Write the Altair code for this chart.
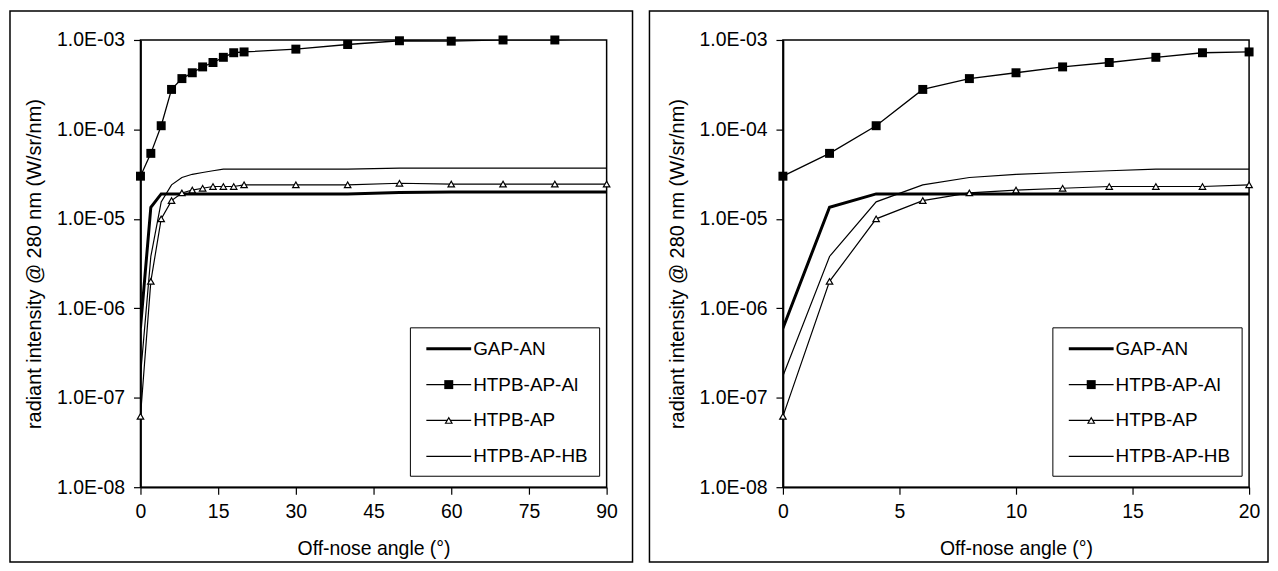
import altair as alt
import pandas as pd

# ---------------- data ----------------
series_names = ["GAP-AN", "HTPB-AP-Al", "HTPB-AP", "HTPB-AP-HB"]

angles_fine = [0, 2, 4, 6, 8, 10, 12, 14, 16, 18, 20]
gap_an_fine = [6.0e-7, 1.35e-5, 1.9e-5, 1.9e-5, 1.9e-5, 1.9e-5, 1.9e-5, 1.9e-5, 1.9e-5, 1.9e-5, 1.9e-5]
al_fine = [3.0e-5, 5.4e-5, 1.1e-4, 2.8e-4, 3.7e-4, 4.3e-4, 5.0e-4, 5.6e-4, 6.4e-4, 7.2e-4, 7.35e-4]
ap_fine = [6.2e-8, 2.0e-6, 1.0e-5, 1.6e-5, 1.95e-5, 2.1e-5, 2.2e-5, 2.3e-5, 2.3e-5, 2.3e-5, 2.4e-5]
hb_fine = [1.75e-7, 3.8e-6, 1.55e-5, 2.4e-5, 2.9e-5, 3.15e-5, 3.3e-5, 3.45e-5, 3.6e-5, 3.6e-5, 3.6e-5]

angles_wide = [30, 40, 50, 60, 70, 80, 90]
gap_an_wide = [1.9e-5, 1.9e-5, 1.97e-5, 2.0e-5, 2.0e-5, 2.0e-5, 2.0e-5]
al_wide = [7.9e-4, 8.9e-4, 9.8e-4, 9.7e-4, 1.0e-3, 1.0e-3, 1.05e-3]
ap_wide = [2.4e-5, 2.4e-5, 2.5e-5, 2.45e-5, 2.45e-5, 2.45e-5, 2.45e-5]
hb_wide = [3.6e-5, 3.6e-5, 3.7e-5, 3.7e-5, 3.7e-5, 3.7e-5, 3.7e-5]

y_ticks = [1e-8, 1e-7, 1e-6, 1e-5, 1e-4, 1e-3]
x_ticks_left = [0, 15, 30, 45, 60, 75, 90]
x_ticks_right = [0, 5, 10, 15, 20]

y_title = "radiant intensity @ 280 nm  (W/sr/nm)"
x_title = "Off-nose angle (°)"


def long_df(angles, cols):
    rows = []
    for name, vals in zip(series_names, cols):
        for a, v in zip(angles, vals):
            rows.append({"angle": a, "value": v, "series": name})
    return pd.DataFrame(rows)


df_left = long_df(angles_fine + angles_wide,
                  [gap_an_fine + gap_an_wide, al_fine + al_wide,
                   ap_fine + ap_wide, hb_fine + hb_wide])
df_right = long_df(angles_fine, [gap_an_fine, al_fine, ap_fine, hb_fine])

FONT = "Liberation Sans"
W, H = 468, 449
line_w = {"GAP-AN": 3.0, "HTPB-AP-Al": 1.3, "HTPB-AP": 1.2, "HTPB-AP-HB": 1.2}
legend_rows_y = [310, 346, 382, 418]


def panel(df, xmax, xticks, rect_left, rect_right):
    x_enc = alt.X("angle:Q", scale=alt.Scale(domain=[0, xmax], nice=False),
                  axis=alt.Axis(values=xticks, title=x_title, grid=False,
                                tickSize=7, labelPadding=8, titlePadding=19,
                                labelFlush=False,
                                labelFontSize=19.5, titleFontSize=19.5,
                                titleFontWeight="normal"))
    y_enc = alt.Y("value:Q",
                  scale=alt.Scale(type="log", domain=[1e-8, 1e-3], nice=False),
                  axis=alt.Axis(values=y_ticks, title=y_title, grid=False,
                                tickSize=7, labelPadding=9, titlePadding=12,
                                labelFlush=False,
                                labelFontSize=19.5, titleFontSize=20,
                                titleFontWeight="normal",
                                labelExpr="'1.0E-0' + (-round(log(datum.value)/LN10))"))
    base = alt.Chart(df)
    layers = []
    one = pd.DataFrame({"k": [0]})
    # outer frame
    layers.append(
        alt.Chart(one).mark_rect(filled=False, stroke="black", strokeWidth=1.5, clip=False)
        .encode(x=alt.value(rect_left), x2=alt.value(W + rect_right),
                y=alt.value(-29), y2=alt.value(H + 75))
    )
    # lines
    for name in series_names:
        layers.append(
            base.transform_filter(alt.datum.series == name)
            .mark_line(color="black", strokeWidth=line_w[name], clip=True)
            .encode(x=x_enc, y=y_enc)
        )
    # markers (hidden above axis max, like the original)
    layers.append(
        base.transform_filter((alt.datum.series == "HTPB-AP-Al") & (alt.datum.value <= 1.01e-3))
        .mark_point(shape="square", filled=True, color="black", size=81, opacity=1)
        .encode(x="angle:Q", y="value:Q")
    )
    layers.append(
        base.transform_filter(alt.datum.series == "HTPB-AP")
        .mark_point(shape="triangle-up", filled=True, fill="white", stroke="black",
                    strokeWidth=1.2, size=42, opacity=1)
        .encode(x="angle:Q", y="value:Q")
    )
    # legend
    leg = pd.DataFrame({"series": series_names})
    layers.append(
        alt.Chart(one).mark_rect(fill="white", stroke="black", strokeWidth=1)
        .encode(x=alt.value(271), x2=alt.value(461), y=alt.value(289), y2=alt.value(438))
    )
    for i, name in enumerate(series_names):
        yy = legend_rows_y[i]
        ld = alt.Chart(leg).transform_filter(alt.datum.series == name)
        layers.append(
            ld.mark_rule(color="black", strokeWidth=line_w[name])
            .encode(x=alt.value(287), x2=alt.value(332), y=alt.value(yy))
        )
        if name == "HTPB-AP-Al":
            layers.append(ld.mark_point(shape="square", filled=True, color="black",
                                        size=81, opacity=1)
                          .encode(x=alt.value(309.5), y=alt.value(yy)))
        if name == "HTPB-AP":
            layers.append(ld.mark_point(shape="triangle-up", filled=True, fill="white",
                                        stroke="black", strokeWidth=1.2, size=42, opacity=1)
                          .encode(x=alt.value(309.5), y=alt.value(yy)))
        layers.append(
            ld.mark_text(align="left", baseline="middle", fontSize=19, font=FONT, color="black")
            .encode(x=alt.value(334), y=alt.value(yy), text="series:N")
        )
    return alt.layer(*layers).properties(width=W, height=H)


left = panel(df_left, 90, x_ticks_left, -131, 26)
right = panel(df_right, 20, x_ticks_right, -134, 19)

chart = alt.hconcat(left, right, spacing=13).properties(padding=0).configure(
    font=FONT
).configure_view(
    stroke="black", strokeWidth=1.5
).configure_axis(
    domainColor="black", domainWidth=1.8, tickColor="black", tickWidth=1.2,
    labelColor="black", titleColor="black", labelFont=FONT, titleFont=FONT
)

chart.save("out.html", embed_options={"renderer": "svg", "actions": False})
